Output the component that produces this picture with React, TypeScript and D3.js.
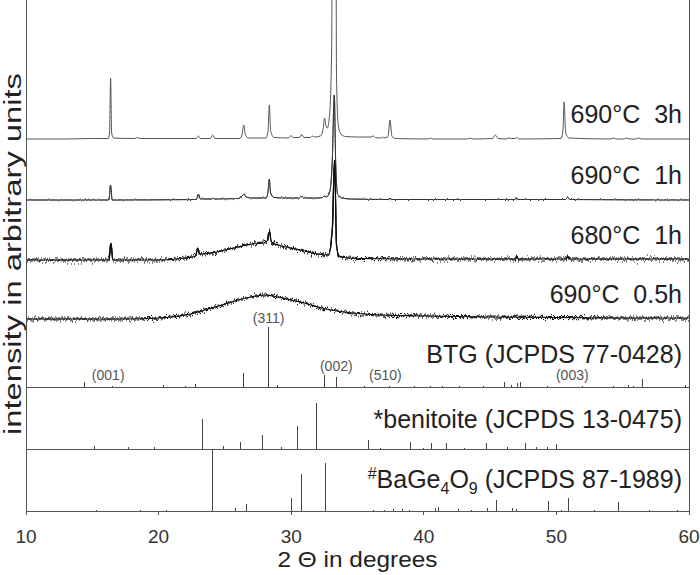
import React from "react";
import * as d3 from "d3";

// ---------- data ----------
const X_TICKS = [10, 20, 30, 40, 50, 60];
const SAMPLE_LABELS = ["690°C  3h", "690°C  1h", "680°C  1h", "690°C  0.5h"];
const SAMPLE_OFFSETS = [372, 311, 251, 192];

const TRACE_3H: [number, number][] = [
  [10, 0], [13, 0], [15, 0.5], [16.2, 0.5], [16.3, 6], [16.38, 61], [16.46, 6], [16.6, 1],
  [18.2, 0.5], [18.4, 1.5], [18.6, 0.5], [22.85, 0.5], [23.0, 3], [23.15, 0.5], [23.9, 0.5],
  [24.08, 4], [24.25, 0.5], [26.15, 0.5], [26.3, 5], [26.42, 14], [26.55, 4], [26.8, 1],
  [28.1, 1], [28.25, 8], [28.35, 34], [28.45, 8], [28.7, 1.5], [29.8, 1], [30.0, 3.5],
  [30.15, 1.5], [30.6, 1.5], [30.8, 4.5], [30.95, 1.5], [31.45, 1.5], [31.6, 3], [31.75, 2],
  [32.2, 3], [32.4, 10], [32.52, 21], [32.62, 13], [32.72, 11], [32.9, 25], [33.05, 90],
  [33.2, 700], [33.3, 700], [33.42, 60], [33.55, 14], [33.75, 5], [34.1, 2.5], [35, 2],
  [36.0, 2], [36.2, 3], [36.35, 1.5], [36.8, 1], [36.9, 2], [37.0, 1], [37.3, 2.5],
  [37.45, 19], [37.6, 2.5], [37.9, 0.5], [40.3, 0], [40.5, 1], [40.7, 0], [43.3, 0],
  [43.5, 1], [43.7, 0], [45.2, 0.5], [45.4, 4], [45.6, 0.5], [46.2, 0], [46.4, 1],
  [46.6, 0.5], [46.9, 0.5], [47.0, 1.5], [47.2, 0], [50.35, 0.5], [50.5, 10], [50.58, 37],
  [50.7, 6], [50.95, 1], [54.1, 0], [54.3, 1], [54.5, 0], [55.1, 0], [55.3, 1], [55.5, 0],
  [56.0, 0], [56.2, 1], [56.4, 0], [60, 0],
];

const TRACE_1H: [number, number][] = [
  [10, 0], [16.25, 0], [16.38, 15], [16.5, 0], [22.85, 0.5], [23.0, 6], [23.15, 1],
  [24.0, 1], [24.1, 2], [24.2, 1], [26.0, 1.5], [26.3, 4], [26.45, 6], [26.6, 3], [27, 2],
  [28.1, 2], [28.25, 8], [28.35, 21], [28.45, 7], [28.7, 2.5], [29.5, 2], [30.6, 2],
  [30.8, 3.5], [31.0, 2], [32, 2], [32.35, 2.5], [32.5, 4], [32.65, 3], [32.9, 8],
  [33.1, 40], [33.25, 105], [33.35, 40], [33.5, 6], [33.8, 2], [34.5, 1], [37.3, 0.5],
  [37.45, 1.5], [37.6, 0.5], [46.9, 0.5], [47.0, 2.5], [47.1, 0.5], [50.7, 0.5],
  [50.85, 3], [51.0, 0.5], [60, 0],
];

const TRACE_680: [number, number][] = [
  [10, 0], [16.25, 0], [16.4, 17], [16.55, 0], [20, 0], [21, 0.5], [22, 2], [22.8, 4],
  [22.95, 12], [23.1, 6], [24, 7], [25, 10], [26, 13], [27, 16], [27.9, 17], [28.2, 19],
  [28.35, 28], [28.5, 18], [29, 15], [30, 12], [31, 9], [32, 6], [32.8, 5], [33.1, 30],
  [33.27, 100], [33.42, 15], [33.6, 4], [34, 2.5], [35, 1.5], [40, 1], [46.9, 1],
  [47.0, 4], [47.15, 1], [50.7, 1], [50.85, 4], [51.0, 1], [60, 1],
];

const TRACE_05H: [number, number][] = [
  [10, 0], [18, 0], [20, 1], [21, 2], [22, 4], [23, 7], [24, 11], [25, 15], [26, 19],
  [27, 22], [28, 24], [29, 22], [30, 19], [31, 16], [32, 12], [33, 9], [34, 7], [35, 5.5],
  [36, 4.5], [38, 3.5], [40, 3], [45, 2], [50, 1.5], [55, 1], [60, 1],
];

const TRACES = [TRACE_3H, TRACE_1H, TRACE_680, TRACE_05H];

const BTG_STICKS: [number, number][] = [
  [14.4, 5], [16.5, 1], [20.4, 2], [22.0, 1], [22.8, 3], [26.4, 14], [28.3, 60], [29.0, 2],
  [32.5, 12], [33.4, 10], [35.5, 1], [37.45, 1], [39.3, 1], [40.5, 1], [41.4, 1], [42.7, 1],
  [44.5, 1], [46.1, 5], [46.6, 2], [47.1, 4], [47.3, 5], [49.3, 1], [52.0, 1], [54.3, 1],
  [55.4, 2], [55.8, 1], [56.5, 8], [59.7, 2],
];

const BEN_STICKS: [number, number][] = [
  [15.2, 3], [17.7, 2], [19.7, 2], [23.3, 30], [24.9, 3], [26.2, 7], [27.8, 14], [29.3, 2],
  [30.5, 23], [31.9, 46], [35.8, 9], [36.7, 1], [39.0, 7], [40.0, 1], [40.6, 6], [41.7, 6],
  [43.1, 1], [44.7, 6], [46.3, 2], [47.7, 6], [48.5, 2], [49.3, 2], [50.0, 5],
];

const BAGE_STICKS: [number, number][] = [
  [15.3, 1], [18.6, 1], [20.6, 1], [24.1, 62], [25.8, 3], [26.6, 7], [30.0, 13], [30.8, 37],
  [32.6, 48], [36.2, 1], [37.0, 1], [37.7, 2], [38.4, 2], [38.9, 1], [40.9, 3], [41.1, 4],
  [42.6, 2], [43.6, 1], [44.8, 3], [45.5, 11], [46.7, 3], [47.0, 2], [49.4, 10], [50.4, 1],
  [50.95, 13], [52.9, 1], [54.7, 9], [57.0, 1], [59.1, 1],
];

const PANELS = [BTG_STICKS, BEN_STICKS, BAGE_STICKS];
const PANEL_BASES = [124, 62, 0];

const HKL_POS = [16.2, 28.3, 33.4, 37.1, 51.2];
const HKL_LABELS = ["(001)", "(311)", "(002)", "(510)", "(003)"];

// ---------- layout ----------
const W = 700, H = 575;
const M = { left: 26, right: 689, top: 0, bottom: 511 };
const FONT = "'Liberation Sans', Arial, Helvetica, sans-serif";

function NoiseFilter({ id, seed, scale, freq }: { id: string; seed: number; scale: number; freq: string }) {
  return (
    <filter id={id} filterUnits="userSpaceOnUse" x={0} y={0} width={W} height={H}>
      <feTurbulence type="fractalNoise" baseFrequency={freq} numOctaves={2} seed={seed} result="t" />
      <feColorMatrix
        in="t"
        type="matrix"
        values="0 0 0 0 0.5  0 1 0 0 0  0 0 0 0 0  0 0 0 0 1"
        result="m"
      />
      <feDisplacementMap in="SourceGraphic" in2="m" scale={scale} xChannelSelector="R" yChannelSelector="G" />
    </filter>
  );
}

export default function App() {
  const x = d3.scaleLinear().domain([10, 60]).range([M.left, M.right]);
  const y = d3.scaleLinear().domain([0, 511]).range([M.bottom, M.top]);

  const lineFor = (off: number) =>
    d3.line<[number, number]>()
      .x((d) => x(d[0]))
      .y((d) => y(off + d[1]))
      .curve(d3.curveMonotoneX);

  const traceStyles = [
    { stroke: "#555", width: 1, filters: [] as string[], base: 1 },
    { stroke: "#333", width: 1, filters: ["url(#noiseLight)"], base: 0.8 },
    { stroke: "#111", width: 1.2, filters: ["url(#noiseHeavy)", "url(#noiseHeavyB)"], base: 1 },
    { stroke: "#111", width: 1.2, filters: ["url(#noiseHeavy2)", "url(#noiseHeavy2B)"], base: 1 },
  ];

  const hklY = (pos: number) => {
    const near = BTG_STICKS.filter((s) => Math.abs(s[0] - pos) <= 1);
    const maxH = near.length ? d3.max(near, (s) => s[1])! : 0;
    return Math.min(y(PANEL_BASES[0]) - 7, y(PANEL_BASES[0] + maxH) - 4);
  };

  return (
    <div style={{ position: "absolute", left: 0, top: 0 }}>
      <svg width={W} height={H} style={{ display: "block", background: "#fff" }} fontFamily={FONT}>
        <defs>
          <clipPath id="plotClip">
            <rect x={M.left} y={M.top} width={M.right - M.left} height={M.bottom - M.top} />
          </clipPath>
          <NoiseFilter id="noiseHeavy" seed={3} scale={13} freq="0.7 0.02" />
          <NoiseFilter id="noiseHeavyB" seed={21} scale={9} freq="0.9 0.02" />
          <NoiseFilter id="noiseHeavy2" seed={11} scale={11} freq="0.7 0.02" />
          <NoiseFilter id="noiseHeavy2B" seed={31} scale={8} freq="0.9 0.02" />
          <NoiseFilter id="noiseLight" seed={7} scale={3} freq="0.6 0.02" />
        </defs>

        {/* traces */}
        <g clipPath="url(#plotClip)">
          {TRACES.map((tr, i) => {
            const d = lineFor(SAMPLE_OFFSETS[i])(tr) || "";
            const st = traceStyles[i];
            return (
              <g key={i}>
                <path d={d} fill="none" stroke={st.stroke} strokeWidth={st.base} />
                {st.filters.map((f, k) => (
                  <g key={k} filter={f}>
                    <path d={d} fill="none" stroke={st.stroke} strokeWidth={st.width} />
                  </g>
                ))}
              </g>
            );
          })}
        </g>

        {/* stick panels */}
        <g shapeRendering="crispEdges">
          {PANELS.map((sticks, p) => (
            <g key={p}>
              <line x1={M.left} x2={M.right} y1={y(PANEL_BASES[p])} y2={y(PANEL_BASES[p])} stroke="#555" />
              {sticks.map((s, j) => (
                <line key={j} x1={x(s[0])} x2={x(s[0])} y1={y(PANEL_BASES[p])} y2={y(PANEL_BASES[p] + s[1])} stroke="#444" />
              ))}
            </g>
          ))}
        </g>

        {/* hkl labels */}
        {HKL_POS.map((p, i) => (
          <text key={i} x={x(p)} y={hklY(p)} textAnchor="middle" fontSize={14} fill="#555">
            {HKL_LABELS[i]}
          </text>
        ))}

        {/* sample labels */}
        {SAMPLE_LABELS.map((l, i) => (
          <text key={i} x={682} y={y(SAMPLE_OFFSETS[i]) - 16} textAnchor="end" fontSize={25} fill="#222" style={{ whiteSpace: "pre" }}>
            {l}
          </text>
        ))}

        {/* panel labels */}
        <text x={682} y={y(PANEL_BASES[0]) - 24} textAnchor="end" fontSize={25} fill="#222">BTG (JCPDS 77-0428)</text>
        <text x={682} y={y(PANEL_BASES[1]) - 21} textAnchor="end" fontSize={25} fill="#222">*benitoite (JCPDS 13-0475)</text>
        <text x={682} y={y(PANEL_BASES[2]) - 23} textAnchor="end" fontSize={25} fill="#222">
          <tspan fontSize={16} dy={-9}>#</tspan>
          <tspan dy={9}>BaGe</tspan>
          <tspan fontSize={16} dy={6}>4</tspan>
          <tspan dy={-6}>O</tspan>
          <tspan fontSize={16} dy={6}>9</tspan>
          <tspan dy={-6}> (JCPDS 87-1989)</tspan>
        </text>

        {/* axes */}
        <g shapeRendering="crispEdges" stroke="#555">
          <line x1={M.left} x2={M.left} y1={M.top} y2={M.bottom} />
          <line x1={M.right} x2={M.right} y1={M.top} y2={M.bottom + 4} />
          <line x1={M.left} x2={M.right} y1={M.bottom} y2={M.bottom} />
          {X_TICKS.map((t) => (
            <line key={t} x1={x(t)} x2={x(t)} y1={M.bottom} y2={M.bottom + 4} />
          ))}
        </g>
        {X_TICKS.map((t) => (
          <text key={t} x={x(t)} y={543} textAnchor="middle" fontSize={19} fill="#333">{t}</text>
        ))}
        <text x={(M.left + M.right) / 2} y={567} textAnchor="middle" fontSize={22} fill="#222" textLength={160} lengthAdjust="spacingAndGlyphs">
          2 Θ in degrees
        </text>
        <text transform={`translate(21,${254}) rotate(-90)`} textAnchor="middle" fontSize={23} fill="#222" textLength={362} lengthAdjust="spacingAndGlyphs">
          intensity in arbitrary units
        </text>
      </svg>
    </div>
  );
}
